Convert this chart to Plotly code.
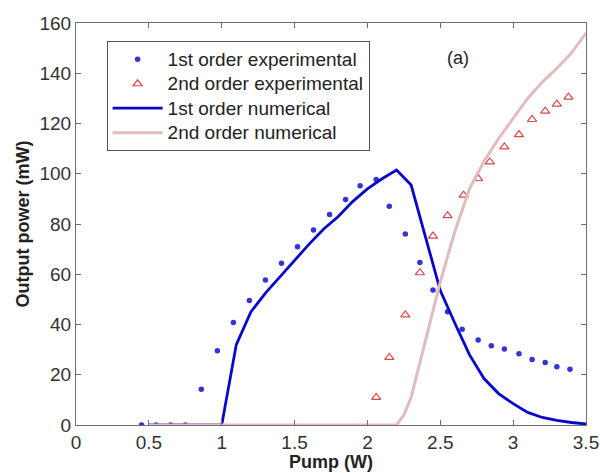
import plotly.graph_objects as go

# 1st order experimental
x1e = [0.45, 0.55, 0.65, 0.75, 0.86, 0.97, 1.08, 1.19, 1.30, 1.41, 1.52, 1.63, 1.74, 1.85,
       1.95, 2.06, 2.15, 2.26, 2.36, 2.45, 2.55, 2.65, 2.76, 2.85, 2.94, 3.04, 3.13, 3.22,
       3.30, 3.39]
y1e = [0, 0, 0, 0, 14.2, 29.6, 40.8, 49.6, 57.7, 64.4, 70.9, 77.6, 83.8, 89.8,
       95.2, 97.7, 87.1, 76.0, 64.7, 53.7, 45.1, 38.1, 33.8, 31.5, 30.2, 28.4, 26.1, 24.9,
       23.2, 22.2]

# 2nd order experimental
x2e = [2.06, 2.15, 2.26, 2.36, 2.45, 2.55, 2.66, 2.76, 2.84, 2.94, 3.04, 3.13, 3.22, 3.30, 3.38]
y2e = [11.0, 26.9, 43.8, 60.6, 75.2, 83.3, 91.5, 98.1, 104.7, 110.7, 115.6, 121.6, 124.9, 127.7, 130.5]

# 1st order numerical
x1n = [0.5, 0.6, 0.7, 0.8, 0.9, 1.0, 1.1, 1.2, 1.3, 1.4, 1.5, 1.6, 1.7, 1.8, 1.9, 2.0,
       2.1, 2.2, 2.3, 2.4, 2.5, 2.6, 2.7, 2.8, 2.9, 3.0, 3.1, 3.2, 3.3, 3.4, 3.5]
y1n = [0, 0, 0, 0, 0, 0, 32, 45, 52.5, 59, 65.5, 72, 78, 83, 89, 94,
       98, 101.5, 95.5, 74, 53.5, 40.5, 28, 18.5, 12.5, 8.5, 5, 3, 1.8, 1, 0.4]

# 2nd order numerical
x2n = [0.5, 1.0, 1.5, 2.0, 2.2, 2.25, 2.3, 2.4, 2.5, 2.6, 2.7, 2.8, 2.9, 3.0, 3.1, 3.2, 3.3, 3.4, 3.5]
y2n = [0, 0, 0, 0, 0, 4, 11, 34, 57, 77, 94, 105, 114, 122, 130, 136.5, 142, 148, 156]

FONT = "Liberation Sans, Arial"

def lg(t):
    return "<span style='font-size:19px'>%s</span>" % t

fig = go.Figure()
fig.add_trace(go.Scatter(x=x1e, y=y1e, mode="markers", name=lg("1st order experimental"),
                         marker=dict(symbol="circle", size=5.5, color="#3434d4")))
fig.add_trace(go.Scatter(x=x2e, y=y2e, mode="markers", name=lg("2nd order experimental"),
                         marker=dict(symbol="triangle-up-open", size=8, color="#d84a4a",
                                     line=dict(width=1.2))))
fig.add_trace(go.Scatter(x=x1n, y=y1n, mode="lines", name=lg("1st order numerical"),
                         line=dict(color="#0808cc", width=2.8)))
fig.add_trace(go.Scatter(x=x2n, y=y2n, mode="lines", name=lg("2nd order numerical"),
                         line=dict(color="#e2bcbc", width=3)))

axis_common = dict(showline=True, linecolor="#707070", linewidth=1, mirror="ticks",
                   ticks="inside", ticklen=5, tickcolor="#707070", showgrid=False,
                   zeroline=False, automargin=False,
                   tickfont=dict(family=FONT, size=19, color="#333"))

fig.update_xaxes(range=[0, 3.5], dtick=0.5, **axis_common)
fig.update_yaxes(range=[0, 160], dtick=20, **axis_common,
                 title=dict(text="<b>Output power (mW)</b>", standoff=5,
                            font=dict(family=FONT, size=18, color="#222")))

fig.add_annotation(x=0.5, y=-0.093, xref="paper", yref="paper", text="<b>Pump (W)</b>",
                   showarrow=False, xanchor="center", yanchor="middle",
                   font=dict(family=FONT, size=18, color="#222"))
fig.add_annotation(x=2.62, y=146, text="(a)", showarrow=False,
                   font=dict(family=FONT, size=18, color="#222"))

fig.update_layout(
    width=600, height=473,
    margin=dict(l=76, r=14, t=23, b=48),
    plot_bgcolor="white", paper_bgcolor="white",
    legend=dict(x=0.06, y=0.955, xanchor="left", yanchor="top",
                bgcolor="white", bordercolor="#555", borderwidth=1,
                font=dict(family=FONT, size=16.5, color="#222"),
                tracegroupgap=0, itemwidth=50),
    showlegend=True,
)

fig.write_html("out.html")
